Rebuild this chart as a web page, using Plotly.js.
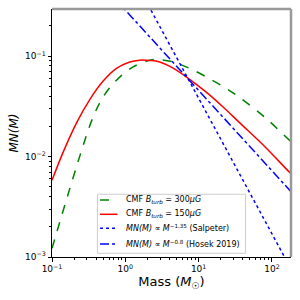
<!DOCTYPE html>
<html><head><meta charset="utf-8">
<script src="https://cdn.plot.ly/plotly-3.0.1.min.js"></script>
<style>html,body{margin:0;padding:0;background:#fff}#c{width:300px;height:300px}</style>
</head><body><div id="c"></div>
<script>
// CMF B_turb = 300 muG (green, dashed)
const massGreen = [0.1, 0.254, 0.365, 0.499, 0.758, 1.28, 2.15, 2.66, 4.47, 7.55, 12.7, 21.4, 36.1, 83.4, 173, 190];
const cmfGreen  = [0.00122, 0.0116, 0.0249, 0.0394, 0.0577, 0.0783, 0.0912, 0.0927, 0.0877, 0.0755, 0.0622, 0.0501, 0.0389, 0.0240, 0.0146, 0.0139];
// CMF B_turb = 150 muG (red, solid)
const massRed = [0.1, 0.143, 0.217, 0.329, 0.499, 0.758, 1.15, 1.57, 2.15, 2.94, 4.43, 7.54, 12.7, 21.2, 36.1, 83.4, 173, 190];
const cmfRed  = [0.0058, 0.0112, 0.0218, 0.0372, 0.0565, 0.0755, 0.0875, 0.0912, 0.0906, 0.0877, 0.0766, 0.0589, 0.0438, 0.0315, 0.0218, 0.0122, 0.0070, 0.0066];
// Salpeter slope -1.35 (blue dotted), end points
const massSalp = [1, 200];
const valSalp  = [0.853, 0.000668];
// Hosek 2019 slope -0.8 (blue dash-dot), end points
const massHosek = [0.5, 200];
const valHosek  = [0.501, 0.00415];

const legendNames = [
  'CMF <i>B<sub>turb</sub></i> = 300<i>μG</i>',
  'CMF <i>B<sub>turb</sub></i> = 150<i>μG</i>',
  '<i>MN(M)</i> ∝ <i>M</i><sup>−1.35</sup> (Salpeter)',
  '<i>MN(M)</i> ∝ <i>M</i><sup>−0.8</sup> (Hosek 2019)'
];
const xTickVals = [0.1, 1, 10, 100];
const xTickText = ['10<sup>−1</sup>', '10<sup>0</sup>', '10<sup>1</sup>', '10<sup>2</sup>'];
const yTickVals = [0.001, 0.01, 0.1];
const yTickText = ['10<sup>−3</sup>', '10<sup>−2</sup>', '10<sup>−1</sup>'];

const styles = [
  {color: '#008000', width: 1.5, dash: 'dash', shape: 'spline'},
  {color: '#ff0000', width: 1.5, shape: 'spline'},
  {color: '#0000ff', width: 1.5, dash: 'dot'},
  {color: '#0000ff', width: 1.5, dash: 'dashdot'}
];
const seriesX = [massGreen, massRed, massSalp, massHosek];
const seriesY = [cmfGreen, cmfRed, valSalp, valHosek];

const traces = seriesX.map((xs, i) => ({x: xs, y: seriesY[i], name: legendNames[i], mode: 'lines', line: styles[i]}));

// hand-made legend (matplotlib style, compact rows)
const legRowY = [0.2298, 0.1722, 0.1157, 0.0524];
const shapes = [
  {type: 'line', xref: 'paper', yref: 'paper', x0: 0, x1: 1, y0: 1, y1: 1, line: {color: '#999', width: 2.5}},
  {type: 'line', xref: 'paper', yref: 'paper', x0: 1, x1: 1, y0: 0, y1: 1, line: {color: '#999', width: 2.5}},
  {type: 'rect', xref: 'paper', yref: 'paper', x0: 0.190, x1: 0.810, y0: 0.015, y1: 0.253,
   line: {color: '#cccccc', width: 1}, fillcolor: 'rgba(255,255,255,0.8)'}
];
const annotations = [];
legendNames.forEach((nm, i) => {
  shapes.push({type: 'line', xref: 'paper', yref: 'paper', x0: 0.201, x1: 0.274, y0: legRowY[i], y1: legRowY[i],
               line: {color: styles[i].color, width: 1.5, dash: styles[i].dash || 'solid'}});
  annotations.push({xref: 'paper', yref: 'paper', x: 0.301, y: legRowY[i], xanchor: 'left', yanchor: 'middle',
                    text: nm, showarrow: false, font: {size: 8}});
});

const layout = {
  width: 300, height: 300,
  margin: {l: 52, r: 9, t: 9, b: 43},
  paper_bgcolor: '#fff', plot_bgcolor: '#fff',
  font: {family: 'DejaVu Sans', size: 9, color: '#000'},
  showlegend: false,
  xaxis: {type: 'log', range: [-1, 2.26], showgrid: false, zeroline: false,
          showline: true, linecolor: '#000', linewidth: 1,
          ticks: 'outside', ticklen: 3.5, tickcolor: '#000',
          tickvals: xTickVals, ticktext: xTickText, tickfont: {size: 9},
          minor: {ticks: 'outside', ticklen: 2, tickcolor: '#000', dtick: 'D1'},
          title: {text: 'Mass (<i>M</i><sub>☉</sub>)', font: {size: 13}, standoff: 1}},
  yaxis: {type: 'log', range: [-3, -0.53], showgrid: false, zeroline: false,
          showline: true, linecolor: '#000', linewidth: 1,
          ticks: 'outside', ticklen: 3.5, tickcolor: '#000',
          tickvals: yTickVals, ticktext: yTickText, tickfont: {size: 9},
          minor: {ticks: 'outside', ticklen: 2, tickcolor: '#000', dtick: 'D1'},
          title: {text: '<i>MN(M)</i>', font: {size: 12}, standoff: 3}},
  shapes: shapes,
  annotations: annotations
};
Plotly.newPlot('c', traces, layout, {staticPlot: true, displayModeBar: false});
</script></body></html>
